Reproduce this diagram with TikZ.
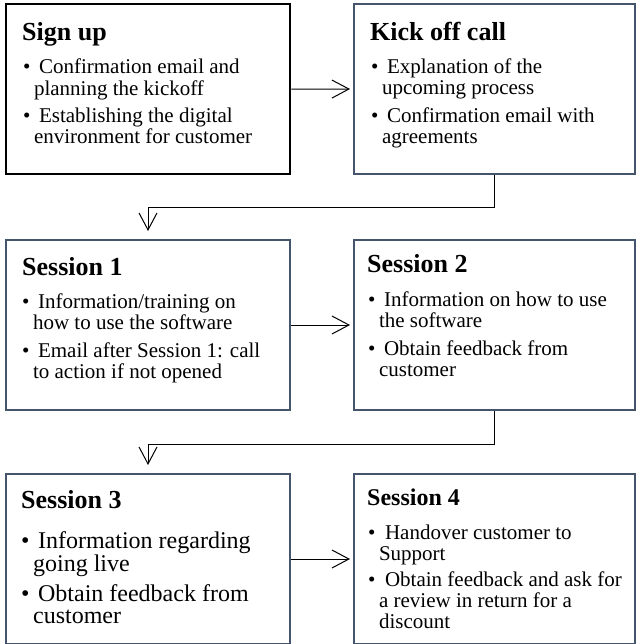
\documentclass[tikz,border=0pt]{standalone}
\usepackage{fontspec}
\setmainfont{Liberation Serif}
\usetikzlibrary{arrows.meta}
\definecolor{slate}{HTML}{44546A}

\tikzset{
  box/.style={draw=slate, line width=2pt, rectangle, inner sep=0pt, anchor=north west,
              minimum height=170pt},
  leftbox/.style={box, minimum width=284pt},
  rightbox/.style={box, minimum width=281pt},
  firstbox/.style={leftbox, draw=black, line width=2.4pt},
  heading/.style={anchor=base west, inner sep=0pt, font=\bfseries\fontsize{#1}{#1}\selectfont},
  heading/.default=26,
  items/.style={anchor=base west, inner sep=0pt},
  flow/.style={draw=black, line width=1pt, -{Straight Barb[length=17pt,width=18pt]}},
}

% bullet list: two columns, bullet and hanging text
\newcommand{\blist}[1]{\begin{tabular}[t]{@{}l@{\hspace{3.5pt}}l@{}}#1\end{tabular}}
\newcommand{\bfirst}{\hspace{5pt}}

\begin{document}
\begin{tikzpicture}[x=1pt, y=-1pt]
\useasboundingbox (0,0) rectangle (636,644);

% boxes
\node[firstbox] (signup)   at (5,3)   {};
\node[rightbox] (kickoff)  at (353,3) {};
\node[leftbox]  (session1) at (5,239) {};
\node[rightbox] (session2) at (353,239) {};
\node[leftbox]  (session3) at (5,473) {};
\node[rightbox] (session4) at (353,473) {};

% Sign up
\node[heading] (signupT) at (22,41) {Sign up};
\node[items, font=\fontsize{21}{21}\selectfont] (signupL) at (23,74) {\blist{%
\textbullet & \bfirst Confirmation email and\\
 & planning the kickoff\\[6pt]
\textbullet & \bfirst Establishing the digital\\
 & environment for customer}};

% Kick off call
\node[heading] (kickoffT) at (370,41) {Kick off call};
\node[items, font=\fontsize{21}{21}\selectfont] (kickoffL) at (371,74) {\blist{%
\textbullet & \bfirst Explanation of the\\
 & upcoming process\\[6pt]
\textbullet & \bfirst Confirmation email with\\
 & agreements}};

% Session 1
\node[heading] (session1T) at (22,275) {Session 1};
\node[items, font=\fontsize{21}{21.5}\selectfont] (session1L) at (22,308) {\blist{%
\textbullet & \bfirst Information/training on\\
 & how to use the software\\[6pt]
\textbullet & \bfirst Email after Session 1: call\\
 & to action if not opened}};

% Session 2
\node[heading] (session2T) at (367,272) {Session 2};
\node[items, font=\fontsize{21}{21.5}\selectfont] (session2L) at (368,306) {\blist{%
\textbullet & \bfirst Information on how to use\\
 & the software\\[6pt]
\textbullet & \bfirst Obtain feedback from\\
 & customer}};

% Session 3
\node[heading] (session3T) at (21,508) {Session 3};
\node[items, font=\fontsize{24}{22.5}\selectfont] (session3L) at (21,548) {\blist{%
\textbullet & \bfirst Information regarding\\
 & going live\\[6pt]
\textbullet & \bfirst Obtain feedback from\\
 & customer}};

% Session 4
\node[heading=24] (session4T) at (367,505) {Session 4};
\node[items, font=\fontsize{21}{21}\selectfont] (session4L) at (368,539) {\blist{%
\textbullet & \hspace{6pt}Handover customer to\\
 & Support\\[5pt]
\textbullet & \hspace{6pt}Obtain feedback and ask for\\
 & a review in return for a\\
 & discount}};

% connectors
\draw[flow, shorten >=3pt] (signup.east) -- (kickoff.west);
\draw[flow, shorten >=3pt] (session1.east) -- (session2.west);
\draw[flow, shorten >=3pt] (session3.east) -- (session4.west);
\draw[flow, shorten >=8pt] (kickoff.south) -- ++(0,33) -| (session1.north);
\draw[flow, shorten >=8pt] (session2.south) -- ++(0,33) -| (session3.north);
\end{tikzpicture}
\end{document}
